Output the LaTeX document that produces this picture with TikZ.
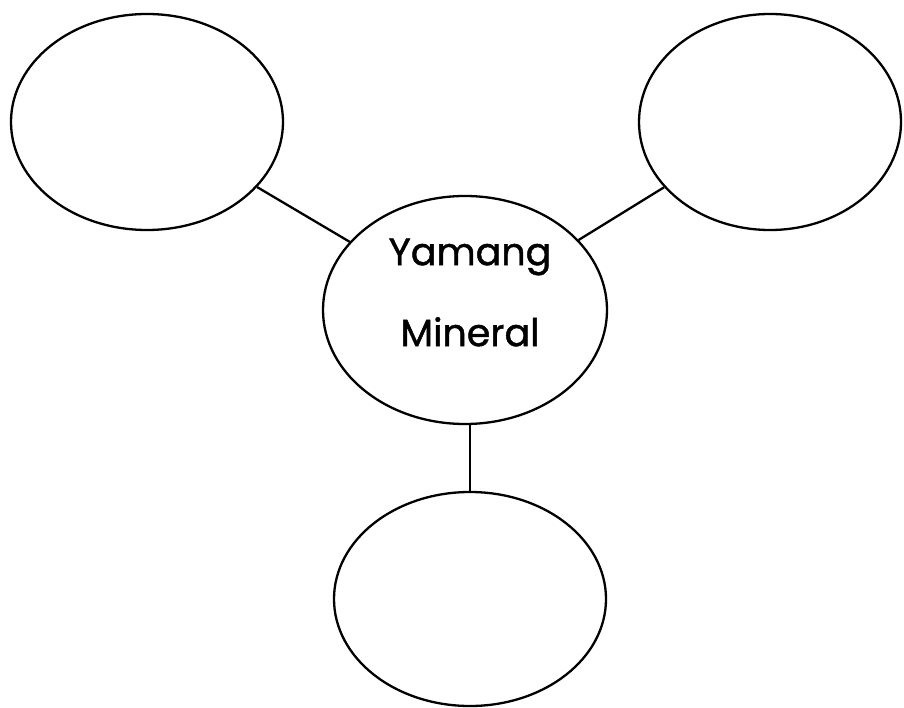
\documentclass[tikz,border=0pt]{standalone}
\usepackage{fontspec}
\setmainfont{Poppins}
\newfontfamily\namefont{Poppins}[FakeBold=1.2]
\usetikzlibrary{shapes.geometric}

\begin{document}
\begin{tikzpicture}[x=1pt,y=-1pt,
                bubble/.style={draw, line width=2.3pt, ellipse, inner sep=0pt},
                link/.style={line width=2.3pt}]
                \useasboundingbox (0,0) rectangle (904,708);
                \node[bubble, minimum width=272pt, minimum height=216pt] (left) at (147,122){};
                \node[bubble, minimum width=262pt, minimum height=216pt] (right) at (770,122){};
                \node[bubble, minimum width=284pt, minimum height=228pt] (main) at (465,310){};
                \node[bubble, minimum width=272pt, minimum height=214pt] (bottom) at (470,599){};
                \node[inner sep=0pt, align=center, font=\namefont\fontsize{38}{81}\selectfont] (name) at (470,292.5){Yamang\\Mineral};
                \draw[link](left)--(main);
                \draw[link](right)--(main);
                \draw[link](main.south -| bottom.north)--(bottom.north);
            \end{tikzpicture}
\end{document}
